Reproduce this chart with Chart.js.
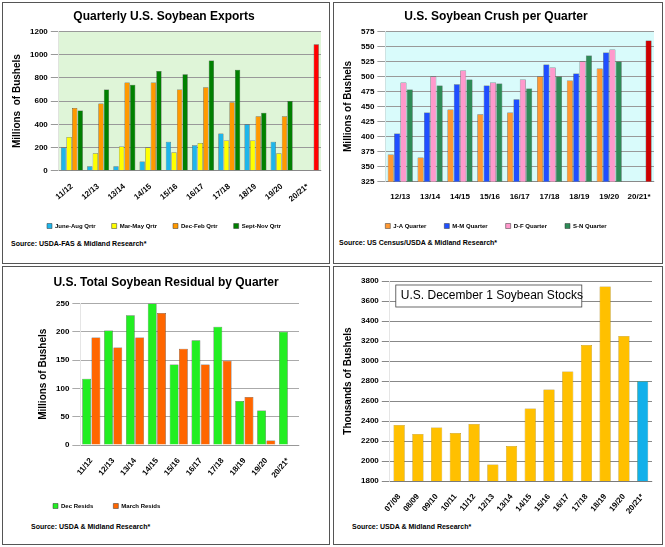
<!DOCTYPE html>
<html>
<head>
<meta charset="utf-8">
<script src="https://cdn.jsdelivr.net/npm/chart.js@4.4.0/dist/chart.umd.min.js"></script>
<style>
body { margin: 0; background: #fff; font-family: Arial, "Liberation Sans", sans-serif; }
.wrap { position: relative; width: 665px; height: 547px; }
.panel { position: absolute; border: 1px solid #555; box-sizing: border-box; background: #fff; }
.panel canvas { position: absolute; left: 0; top: 0; }
.src { position: absolute; font-size: 7px; font-weight: bold; }
</style>
</head>
<body>
<div class="wrap">
  <div class="panel" style="left:2px;top:2px;width:328px;height:262px">
    <canvas id="c1"></canvas><div class="src" style="left:8px;top:237px">Source: USDA-FAS &amp; Midland Research*</div>
  </div>
  <div class="panel" style="left:333px;top:2px;width:330px;height:262px">
    <canvas id="c2"></canvas><div class="src" style="left:5px;top:236px">Source: US Census/USDA &amp; Midland Research*</div>
  </div>
  <div class="panel" style="left:2px;top:266px;width:328px;height:279px">
    <canvas id="c3"></canvas><div class="src" style="left:28px;top:256px">Source: USDA &amp; Midland Research*</div>
  </div>
  <div class="panel" style="left:333px;top:266px;width:330px;height:279px">
    <canvas id="c4"></canvas><div class="src" style="left:18px;top:256px">Source: USDA &amp; Midland Research*</div>
  </div>
</div>
<script>
// exports, millions of bushels
var expYears = ['11/12','12/13','13/14','14/15','15/16','16/17','17/18','18/19','19/20','20/21*'];
var expJunAug = [200, 40, 40, 80, 250, 220, 320, 400, 250, null];
var expMarMay = [290, 150, 210, 200, 160, 240, 260, 260, 150, null];
var expDecFeb = [540, 580, 760, 760, 700, 720, 590, 470, 470, null];
var expSepNov = [520, 700, 740, 860, 830, 950, 870, 500, 600, 1090];

// crush per quarter
var crushYears = ['12/13','13/14','14/15','15/16','16/17','17/18','18/19','19/20','20/21*'];
var crushJA = [370, 365, 445, 437, 440, 500, 493, 513, null];
var crushMM = [405, 440, 487, 485, 462, 520, 505, 540, null];
var crushDF = [490, 500, 510, 490, 495, 515, 525, 545, null];
var crushSN = [478, 485, 495, 488, 480, 500, 535, 525, 560];

// residual
var resYears = ['11/12','12/13','13/14','14/15','15/16','16/17','17/18','18/19','19/20','20/21*'];
var resDec = [117, 202, 229, 250, 142, 185, 209, 78, 61, 200];
var resMar = [190, 172, 190, 233, 170, 142, 149, 85, 8, null];

// december 1 stocks
var stkYears = ['07/08','08/09','09/10','10/11','11/12','12/13','13/14','14/15','15/16','16/17','17/18','18/19','19/20','20/21*'];
var stkVals = [2360, 2270, 2335, 2280, 2370, 1966, 2150, 2525, 2715, 2895, 3160, 3745, 3250, 2800];

Chart.defaults.font.family = 'Arial, "Liberation Sans", sans-serif';
Chart.defaults.font.weight = 'bold';
Chart.defaults.font.size = 8;
Chart.defaults.color = '#000';

var areaBg = {
  id: 'areaBg',
  beforeDraw: function(chart, args, opts) {
    if (!opts.color) return;
    var a = chart.chartArea, ctx = chart.ctx;
    ctx.save();
    ctx.fillStyle = opts.color;
    ctx.fillRect(a.left, a.top, a.right - a.left, a.bottom - a.top);
    ctx.restore();
  }
};
Chart.register(areaBg);

function plain(v) { return String(v); }

function mk(id, w, h, cfg) {
  var c = document.getElementById(id);
  c.width = w; c.height = h;
  cfg.options.responsive = false;
  cfg.options.animation = false;
  new Chart(c.getContext('2d'), cfg);
}
function yTitle(t) { return { display: true, text: t, font: { size: 10, weight: 'bold' } }; }
function ds(label, data, color, border) {
  return { label: label, data: data, backgroundColor: color, borderColor: border || '#333', borderWidth: 0.5,
           categoryPercentage: 0.85, barPercentage: 0.95 };
}

mk('c1', 326, 236, {
  type: 'bar',
  data: { labels: expYears, datasets: [
    ds('June-Aug Qrtr', expJunAug, '#1fb5ea'),
    ds('Mar-May Qrtr', expMarMay, '#ffff00'),
    ds('Dec-Feb Qrtr', expDecFeb, '#ff9900'),
    ds('Sept-Nov Qrtr', expSepNov, expSepNov.map(function(v, i){ return i == 9 ? '#ff0000' : '#008000'; }))
  ]},
  options: {
    layout: { padding: { left: 4, right: 8, top: 0 } },
    plugins: {
      title: { display: true, text: 'Quarterly U.S. Soybean Exports', font: { size: 12 }, padding: { top: 6, bottom: 8 } },
      legend: { position: 'bottom', labels: { boxWidth: 5, boxHeight: 5, font: { size: 6 }, padding: 16 } },
      areaBg: { color: '#dff5d8' }
    },
    scales: {
      y: { min: 0, max: 1200, ticks: { stepSize: 100, callback: plain }, title: yTitle('Millions  of Bushels'), grid: { color: '#999' } },
      x: { ticks: { maxRotation: 40, minRotation: 40 }, grid: { display: false } }
    }
  }
});

mk('c2', 328, 236, {
  type: 'bar',
  data: { labels: crushYears, datasets: [
    ds('J-A Quarter', crushJA, '#ff9933'),
    ds('M-M Quarter', crushMM, '#1f4fff'),
    ds('D-F Quarter', crushDF, '#ff99cc'),
    ds('S-N Quarter', crushSN, crushSN.map(function(v, i){ return i == 8 ? '#cc0000' : '#2e8b57'; }))
  ]},
  options: {
    layout: { padding: { left: 4, right: 8 } },
    plugins: {
      title: { display: true, text: 'U.S. Soybean Crush per Quarter', font: { size: 12 }, padding: { top: 6, bottom: 8 } },
      legend: { position: 'bottom', labels: { boxWidth: 5, boxHeight: 5, font: { size: 6 }, padding: 18 } },
      areaBg: { color: '#d9fbfb' }
    },
    scales: {
      y: { min: 325, max: 575, ticks: { stepSize: 25, callback: plain }, title: yTitle('Millions of Bushels'), grid: { color: '#999' } },
      x: { ticks: { maxRotation: 0, minRotation: 0 }, grid: { display: false } }
    }
  }
});

mk('c3', 326, 252, {
  type: 'bar',
  data: { labels: resYears, datasets: [
    ds('Dec Resids', resDec, '#22ee22'),
    ds('March Resids', resMar, '#ff6600')
  ]},
  options: {
    layout: { padding: { left: 30, right: 30 } },
    plugins: {
      title: { display: true, text: 'U.S. Total Soybean Residual by Quarter', font: { size: 12 }, padding: { top: 8, bottom: 14 } },
      legend: { position: 'bottom', align: 'start', labels: { boxWidth: 5, boxHeight: 5, font: { size: 6 }, padding: 20 } }
    },
    scales: {
      y: { min: 0, max: 250, ticks: { stepSize: 50, callback: plain }, title: yTitle('Millions of Bushels'), grid: { color: '#aaa' } },
      x: { ticks: { maxRotation: 50, minRotation: 50 }, grid: { display: false } }
    }
  }
});

mk('c4', 328, 252, {
  type: 'bar',
  data: { labels: stkYears, datasets: [{
    label: 'Stocks', data: stkVals,
    backgroundColor: stkVals.map(function(v, i){ return i == 13 ? '#12b0ea' : '#ffc000'; }),
    borderColor: '#a07800', borderWidth: 0.5, categoryPercentage: 0.6, barPercentage: 1
  }]},
  options: {
    layout: { padding: { left: 4, right: 10, top: 14 } },
    plugins: {
      legend: { display: false },
      title: { display: false }
    },
    scales: {
      y: { min: 1800, max: 3800, ticks: { stepSize: 200, callback: plain }, title: yTitle('Thousands of Bushels'), grid: { color: '#888' } },
      x: { ticks: { maxRotation: 50, minRotation: 50 }, grid: { display: false } }
    }
  },
  plugins: [{
    id: 'inTitle',
    afterDraw: function(chart) {
      var ctx = chart.ctx, a = chart.chartArea;
      ctx.save();
      ctx.fillStyle = '#fff';
      ctx.fillRect(a.left + 6, a.top + 4, 186, 22);
      ctx.strokeStyle = '#444'; ctx.lineWidth = 0.8;
      ctx.strokeRect(a.left + 6, a.top + 4, 186, 22);
      ctx.fillStyle = '#000';
      ctx.font = '12px Arial, "Liberation Sans", sans-serif';
      ctx.textBaseline = 'middle';
      ctx.fillText('U.S. December 1 Soybean Stocks', a.left + 11, a.top + 15);
      ctx.restore();
    }
  }]
});
</script>
</body>
</html>
